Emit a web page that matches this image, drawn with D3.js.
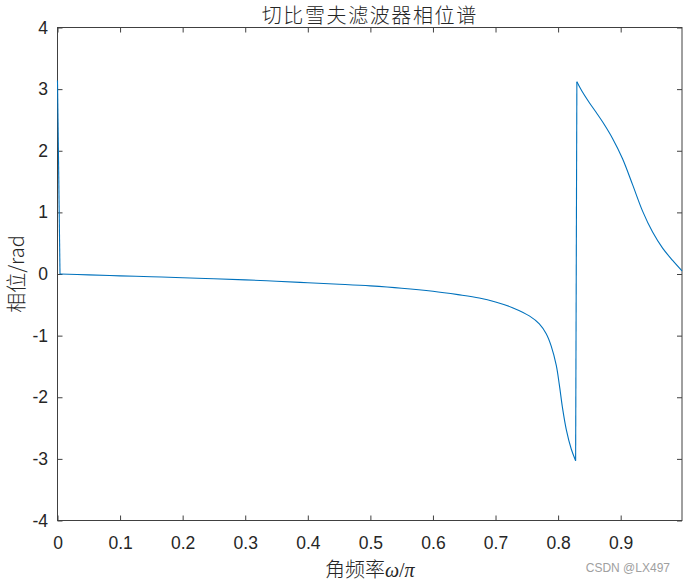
<!DOCTYPE html>
<html>
<head>
<meta charset="utf-8">
<script src="https://cdn.jsdelivr.net/npm/d3@7"></script>
<style>
  html, body { margin: 0; padding: 0; background: #fff; }
  svg { display: block; }
</style>
</head>
<body>
<svg id="chart" width="685" height="582"></svg>
<script>
// ---- data ----
const freq = [0, 0.004, 0.05, 0.1, 0.15, 0.2, 0.25, 0.3, 0.35, 0.4, 0.45, 0.5, 0.55, 0.6, 0.64, 0.674, 0.7, 0.728, 0.754, 0.77, 0.781, 0.789, 0.797, 0.802, 0.807, 0.813, 0.821, 0.828,
              0.830, 0.838, 0.85, 0.861, 0.871, 0.887, 0.903, 0.919, 0.935, 0.951, 0.967, 0.983, 0.998];
const phase = [3.14, 0.0, -0.015, -0.03, -0.045, -0.06, -0.077, -0.095, -0.117, -0.142, -0.166, -0.193, -0.23, -0.28, -0.335, -0.39, -0.455, -0.55, -0.68, -0.81, -0.97, -1.17, -1.48, -1.80, -2.17, -2.52, -2.84, -3.03,
               3.12, 2.97, 2.78, 2.62, 2.47, 2.20, 1.87, 1.45, 1.02, 0.68, 0.42, 0.22, 0.05];
const xTicks = [0, 0.1, 0.2, 0.3, 0.4, 0.5, 0.6, 0.7, 0.8, 0.9];
const yTicks = [-4, -3, -2, -1, 0, 1, 2, 3, 4];
const titleText = "切比雪夫滤波器相位谱";
const xLabelText = "角频率";
const yLabelText = "相位/rad";
const watermark = "CSDN @LX497";

// ---- layout ----
const svg = d3.select("#chart");
const L = 57.5, R = 682, T = 27.5, B = 520.5;
const x = d3.scaleLinear().domain([0, 0.998]).range([L, R]);
const y = d3.scaleLinear().domain([-4, 4]).range([B, T]);
const axisColor = "#404040";
const tickFont = "'Liberation Sans', Arial, Helvetica, sans-serif";
const fmt = d => String(d);

// box
svg.append("rect").attr("x", L).attr("y", T).attr("width", R - L).attr("height", B - T)
  .attr("fill", "none").attr("stroke", axisColor).attr("stroke-width", 1);

function styleAxis(g) {
  g.select(".domain").remove();
  g.selectAll(".tick line").attr("stroke", axisColor).attr("stroke-width", 1);
  g.selectAll(".tick text").attr("fill", "#262626").style("font-family", tickFont).style("font-size", "17.5px");
}

svg.append("g").attr("transform", `translate(0,${B})`)
  .call(d3.axisBottom(x).tickValues(xTicks).tickSizeInner(-5).tickSizeOuter(0).tickPadding(16).tickFormat(fmt))
  .call(styleAxis);
svg.append("g").attr("transform", `translate(0,${T})`)
  .call(d3.axisTop(x).tickValues(xTicks).tickSizeInner(-5).tickSizeOuter(0).tickFormat(""))
  .call(styleAxis);
svg.append("g").attr("transform", `translate(${L},0)`)
  .call(d3.axisLeft(y).tickValues(yTicks).tickSizeInner(-5).tickSizeOuter(0).tickPadding(9.5).tickFormat(fmt))
  .call(styleAxis);
svg.append("g").attr("transform", `translate(${R},0)`)
  .call(d3.axisRight(y).tickValues(yTicks).tickSizeInner(-5).tickSizeOuter(0).tickFormat(""))
  .call(styleAxis);

// curve: smooth segments joined by straight jumps
const pts = freq.map((f, i) => [f, phase[i]]);
const jumpIdx = [1, 28]; // indices where a new smooth segment starts
const segs = [];
let start = 0;
jumpIdx.forEach(j => { segs.push(pts.slice(start, j)); start = j; });
segs.push(pts.slice(start));
const smooth = d3.line().x(d => x(d[0])).y(d => y(d[1])).curve(d3.curveCatmullRom.alpha(0.5));
const straight = d3.line().x(d => x(d[0])).y(d => y(d[1]));
const g = svg.append("g").attr("fill", "none").attr("stroke", "#0072BD").attr("stroke-width", 1.1)
  .attr("stroke-linejoin", "round");
segs.forEach(s => { if (s.length > 1) g.append("path").datum(s).attr("d", smooth); });
jumpIdx.forEach(j => g.append("path").datum([pts[j - 1], pts[j]]).attr("d", straight));

// title
svg.append("text").attr("x", (L + R) / 2).attr("y", 23).attr("text-anchor", "middle")
  .style("font-family", "'Noto Sans CJK SC'").style("font-size", "20px").style("font-weight", "300")
  .style("letter-spacing", "1.6px").attr("fill", "#262626").text(titleText);

// x label
const xl = svg.append("text").attr("x", (L + R) / 2).attr("y", 577).attr("text-anchor", "middle")
  .attr("fill", "#262626").style("font-size", "20px");
xl.append("tspan").style("font-family", "'Noto Sans CJK SC'").style("font-weight", "300").text(xLabelText);
xl.append("tspan").style("font-family", "'Liberation Serif', serif").style("font-style", "italic").text("ω");
xl.append("tspan").style("font-family", "'Liberation Serif', serif").text("/");
xl.append("tspan").style("font-family", "'Liberation Serif', serif").style("font-style", "italic").text("π");

// y label
svg.append("text").attr("transform", `translate(24,${(T + B) / 2}) rotate(-90)`).attr("text-anchor", "middle")
  .attr("fill", "#262626").style("font-size", "20px").style("font-family", "'Noto Sans CJK SC'").style("font-weight", "300")
  .text(yLabelText);

// watermark
svg.append("text").attr("x", 670).attr("y", 572).attr("text-anchor", "end")
  .attr("fill", "#a0a0a0").style("font-family", tickFont).style("font-size", "12px").text(watermark);
</script>
</body>
</html>
